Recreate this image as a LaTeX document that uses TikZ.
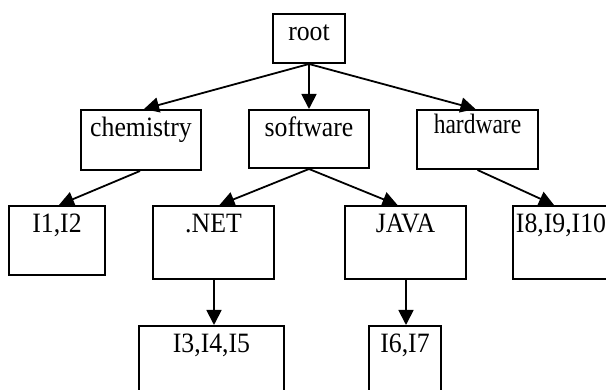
\documentclass[tikz,border=0pt]{standalone}
\usepackage{fontspec}
\usepackage{tikz}
\usetikzlibrary{positioning,calc,arrows.meta}
\newfontfamily\boxfont[FakeStretch=0.92]{Liberation Serif}
\newfontfamily\hwfont[FakeStretch=0.84]{Liberation Serif}
\definecolor{TInk}{HTML}{000000}

\begin{document}
\begin{tikzpicture}[x=1pt, y=-1pt,
  cell/.style={draw=TInk, line width=2pt, anchor=north west, inner sep=0pt,
    font=\boxfont\fontsize{28}{32}\selectfont, text=TInk},
  link/.style={draw=TInk, line width=1.8pt, -{Triangle[length=15pt,width=15pt]}}]
\clip (0,0) rectangle (606,390);
\fill[white] (0,0) rectangle (606,390);
% top level
\node[cell, minimum width=72pt, text height=27pt, text depth=22pt] (root) at (272,13) {root};
% categories
\node[cell, minimum width=120pt, text height=27pt, text depth=33pt] (chem) at (80,109) {chemistry};
\node[cell, minimum width=120pt, text height=27pt, text depth=31pt] (soft) at (248,109) {software};
\node[cell, minimum width=121pt, text height=24pt, text depth=35pt, font=\hwfont\fontsize{28}{32}\selectfont] (hard) at (416,109) {hardware};
% third row
\node[cell, minimum width=96pt, text height=27pt, text depth=42pt] (i12) at (8,205) {I1,I2};
\node[cell, minimum width=121pt, text height=27pt, text depth=46pt] (net) at (152,205) {.NET};
\node[cell, minimum width=121pt, text height=27pt, text depth=46pt] (java) at (344,205) {JAVA};
\node[cell, minimum width=96pt, text height=27pt, text depth=46pt] (i810) at (512,205) {I8,I9,I10};
% leaves
\node[cell, minimum width=145pt, text height=27pt, text depth=80pt] (i345) at (138,325) {I3,I4,I5};
\node[cell, minimum width=72pt, text height=27pt, text depth=80pt] (i67) at (368,325) {I6,I7};
% links
\draw[link] (root.south) -- ([xshift=3pt]chem.north);
\draw[link] (root.south) -- (soft.north);
\draw[link] (root.south) -- ([xshift=-2pt]hard.north);
\draw[link] ([xshift=-1pt]chem.south) -- ([xshift=2pt]i12.north);
\draw[link] (soft.south) -- ([xshift=6pt]net.north);
\draw[link] (soft.south) -- ([xshift=-8pt]java.north);
\draw[link] (hard.south) -- ([xshift=42pt]i810.north west);
\draw[link] ([xshift=0.5pt]net.south) -- ([xshift=0.5pt]net.south |- i345.north);
\draw[link] ([xshift=0.5pt]java.south) -- ([xshift=0.5pt]java.south |- i67.north);
\end{tikzpicture}
\end{document}
